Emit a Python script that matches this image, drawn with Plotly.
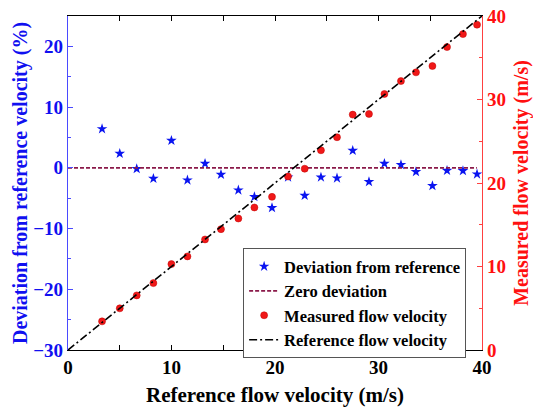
import plotly.graph_objects as go

ref_x = [3.29, 5.0, 6.64, 8.25, 9.99, 11.54, 13.24, 14.78, 16.46, 18.01, 19.71, 21.26,
         22.87, 24.44, 25.99, 27.51, 29.08, 30.57, 32.17, 33.62, 35.21, 36.62, 38.16, 39.52]
deviation = [6.41, 2.35, -0.16, -1.76, 4.49, -2.04, 0.71, -1.10, -3.68, -4.77, -6.58, -1.55,
             -4.56, -1.55, -1.71, 2.85, -2.30, 0.71, 0.49, -0.66, -2.96, -0.44, -0.49, -1.05]
measured = [3.43, 4.99, 6.54, 8.01, 10.29, 11.21, 13.24, 14.47, 15.75, 17.07, 18.34, 20.78,
            21.71, 23.92, 25.48, 28.19, 28.27, 30.66, 32.21, 33.25, 34.01, 36.28, 37.83, 38.96]
zero_x = [0, 39.5]
zero_y = [0, 0]
ref_line_x = [0, 40]
ref_line_y = [0, 40]

FONT = "Liberation Serif"
BLUE = "#1010f0"
RED = "#ff1010"

fig = go.Figure()
fig.add_trace(go.Scatter(x=ref_x, y=deviation, mode="markers", name="Deviation from reference",
                         marker=dict(symbol="star", size=8, color="#0a14f0")))
fig.add_trace(go.Scatter(x=zero_x, y=zero_y, mode="lines", name="Zero deviation",
                         line=dict(color="#8b1a4a", width=1.8, dash="4px,2px")))
fig.add_trace(go.Scatter(x=ref_x, y=measured, mode="markers", name="Measured flow velocity",
                         yaxis="y2", marker=dict(symbol="circle", size=7, color="#f01818",
                                                 line=dict(color="#c00000", width=0.5))))
fig.add_trace(go.Scatter(x=ref_line_x, y=ref_line_y, mode="lines", name="Reference flow velocity",
                         yaxis="y2", line=dict(color="black", width=1.6, dash="8px,3px,2px,3px")))

fig.update_layout(
    width=533, height=407,
    margin=dict(l=68, r=51, t=16, b=57),
    plot_bgcolor="white", paper_bgcolor="white",
    font=dict(family=FONT, size=16, color="black", weight="bold"),
    xaxis=dict(range=[0, 40], tickvals=[0, 10, 20, 30, 40], showgrid=False, zeroline=False,
               automargin=False,
               showline=True, linecolor="black", linewidth=1.2, mirror="allticks",
               ticks="inside", ticklen=5, tickcolor="black",
               minor=dict(tickvals=[5, 15, 25, 35], ticks="inside", ticklen=3, tickcolor="black"),
               tickfont=dict(family=FONT, size=19, color="black", weight="bold"),
               title=dict(text="Reference flow velocity (m/s)", standoff=10,
                          font=dict(family=FONT, size=21, color="black", weight="bold"))),
    yaxis=dict(range=[-30, 25], tickvals=[-30, -20, -10, 0, 10, 20], showgrid=False, zeroline=False,
               automargin=False,
               showline=True, linecolor="#4a4aff", linewidth=1.2,
               ticks="inside", ticklen=5, tickcolor="#4a4aff",
               minor=dict(tickvals=[-25, -15, -5, 5, 15, 25], ticks="inside", ticklen=3, tickcolor="#4a4aff"),
               tickfont=dict(family=FONT, size=19, color=BLUE, weight="bold"),
               title=dict(text="Deviation from reference velocity (%)", standoff=0,
                          font=dict(family=FONT, size=20, color=BLUE, weight="bold"))),
    yaxis2=dict(range=[0, 40], tickvals=[0, 10, 20, 30, 40], overlaying="y", side="right",
                automargin=False,
                showgrid=False, zeroline=False, showline=True, linecolor="#ff4040", linewidth=1.2,
                ticks="inside", ticklen=5, tickcolor="#ff4040",
                minor=dict(tickvals=[5, 15, 25, 35], ticks="inside", ticklen=3, tickcolor="#ff4040"),
                tickfont=dict(family=FONT, size=19, color=RED, weight="bold"),
                title=dict(text="Measured flow velocity (m/s)", standoff=10,
                           font=dict(family=FONT, size=20, color=RED, weight="bold"))),
    legend=dict(x=0.423, y=0.305, xanchor="left", yanchor="top",
                bgcolor="white", bordercolor="#555555", borderwidth=1,
                font=dict(family=FONT, size=16.5, color="black", weight="bold"),
                tracegroupgap=0, itemwidth=30),
    showlegend=True,
)

fig.write_html("out.html")
